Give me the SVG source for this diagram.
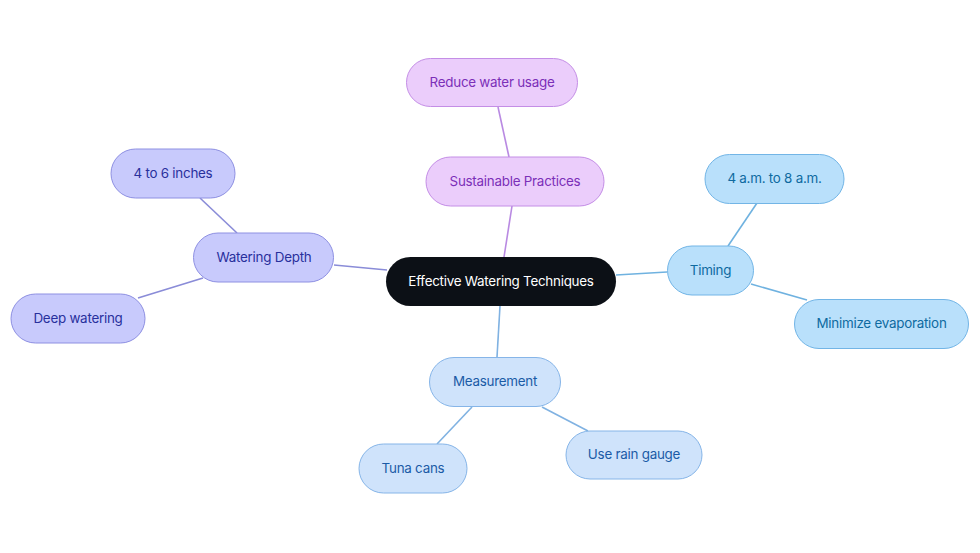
<svg xmlns="http://www.w3.org/2000/svg" width="980" height="553" viewBox="0 0 980 553">
<style>
text{font-family:Inter,"Noto Sans","Liberation Sans",sans-serif;font-size:13.4px;letter-spacing:-0.25px;text-anchor:middle;dominant-baseline:central}
.e{fill:none;stroke-width:1.6}
.p rect{fill:#ebcdfb;stroke:#c48ee6;stroke-width:1}
.p text{fill:#7b2fb8}
.d rect{fill:#c8cafc;stroke:#8e90e2;stroke-width:1}
.d text{fill:#28309c}
.t rect{fill:#b9e0fb;stroke:#72b5e6;stroke-width:1}
.t text{fill:#0e6aa0}
.m rect{fill:#cfe3fb;stroke:#86b5e8;stroke-width:1}
.m text{fill:#1b5ba6}
</style>
<rect width="980" height="553" fill="#ffffff"/>
<g id="connectors">
<line class="e" x1="498" y1="107" x2="509" y2="157" stroke="#b98ae2"/>
<line class="e" x1="512" y1="206" x2="504" y2="257" stroke="#b98ae2"/>
<line class="e" x1="200" y1="198" x2="237" y2="233" stroke="#8a8cd8"/>
<line class="e" x1="203" y1="278" x2="138" y2="298" stroke="#8a8cd8"/>
<line class="e" x1="334" y1="265" x2="387" y2="270" stroke="#8a8cd8"/>
<line class="e" x1="757" y1="203" x2="728" y2="246" stroke="#6fb2e0"/>
<line class="e" x1="751" y1="284" x2="807" y2="300" stroke="#6fb2e0"/>
<line class="e" x1="616" y1="275" x2="667" y2="272" stroke="#6fb2e0"/>
<line class="e" x1="500" y1="306" x2="497" y2="357" stroke="#80b2e2"/>
<line class="e" x1="472" y1="407" x2="437" y2="444" stroke="#80b2e2"/>
<line class="e" x1="542" y1="407" x2="588" y2="431" stroke="#80b2e2"/>
</g>
<g id="central">
<rect x="386" y="257" width="230" height="49" rx="24.5" fill="#0c1016"/>
<text x="501" y="280.5" fill="#ffffff">Effective Watering Techniques</text>
</g>
<g id="reduce" class="p">
<rect x="406.5" y="58.5" width="171" height="48" rx="24"/>
<text x="492" y="81.5">Reduce water usage</text>
</g>
<g id="sustainable" class="p">
<rect x="426" y="157" width="178" height="49" rx="24.5"/>
<text x="515" y="180.5">Sustainable Practices</text>
</g>
<g id="inches" class="d">
<rect x="111" y="149" width="124" height="49" rx="24.5"/>
<text x="173" y="172.5">4 to 6 inches</text>
</g>
<g id="depth" class="d">
<rect x="193.5" y="233" width="140" height="49" rx="24.5"/>
<text x="264" y="256.5">Watering Depth</text>
</g>
<g id="deep" class="d">
<rect x="11" y="294" width="134" height="49" rx="24.5"/>
<text x="78" y="317.5">Deep watering</text>
</g>
<g id="am" class="t">
<rect x="705" y="154.5" width="139" height="49" rx="24.5"/>
<text x="774.5" y="178">4 a.m. to 8 a.m.</text>
</g>
<g id="timing" class="t">
<rect x="667.5" y="246" width="86" height="49" rx="24.5"/>
<text x="710.5" y="269.5">Timing</text>
</g>
<g id="evap" class="t">
<rect x="794.5" y="299.5" width="174" height="49" rx="24.5"/>
<text x="881.5" y="323">Minimize evaporation</text>
</g>
<g id="measurement" class="m">
<rect x="429.5" y="357.5" width="131" height="49" rx="24.5"/>
<text x="495" y="381">Measurement</text>
</g>
<g id="tuna" class="m">
<rect x="359" y="444" width="108" height="49" rx="24.5"/>
<text x="413" y="467.5">Tuna cans</text>
</g>
<g id="gauge" class="m">
<rect x="566" y="431" width="136" height="48" rx="24"/>
<text x="634" y="454">Use rain gauge</text>
</g>
</svg>
